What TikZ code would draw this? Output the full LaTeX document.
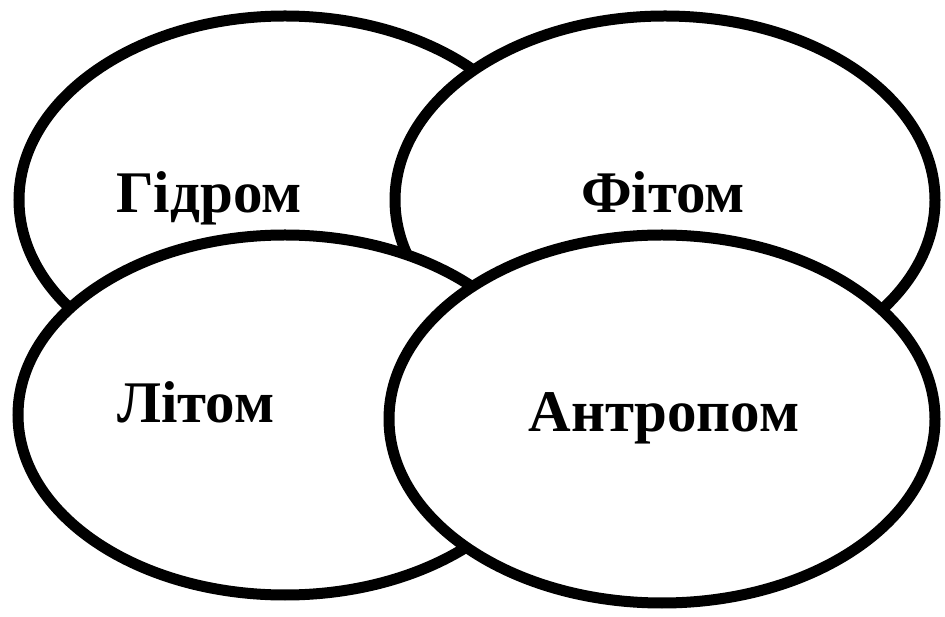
\documentclass[tikz,border=0pt]{standalone}
\usepackage{fontspec}
\setmainfont{Liberation Serif}
\usetikzlibrary{shapes.geometric}
\begin{document}
\begin{tikzpicture}[x=1pt,y=1pt,
  blob/.style={ellipse, draw=black, fill=white, line width=11pt, inner sep=0pt},
  lbl/.style={anchor=base, inner sep=0pt, font=\fontsize{59}{62}\selectfont\bfseries}]
\useasboundingbox (0,0) rectangle (945,616);
\node[blob, minimum width=532pt, minimum height=368pt] (hydro) at (285,416) {};
\node[lbl] (thydro) at (209,403) {Гідром};
\node[blob, minimum width=540pt, minimum height=368pt] (phyto) at (665,416) {};
\node[lbl] (tphyto) at (663,403) {Фітом};
\node[blob, minimum width=534pt, minimum height=360pt] (litho) at (285,201) {};
\node[lbl] (tlitho) at (196,193) {Літом};
\node[blob, minimum width=546pt, minimum height=368pt] (anthro) at (662,197) {};
\node[lbl] (tanthro) at (664,184) {Антропом};
\end{tikzpicture}
\end{document}
